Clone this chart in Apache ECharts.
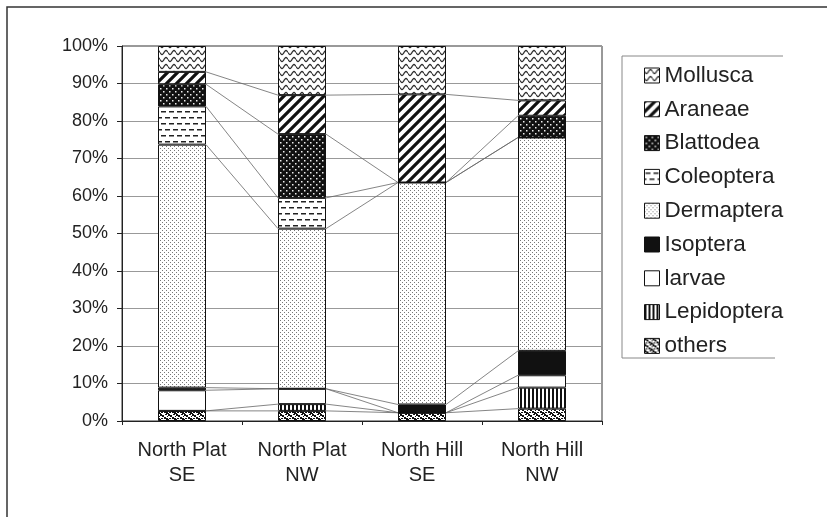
<!DOCTYPE html>
<html>
<head>
<meta charset="utf-8">
<script src="https://cdn.jsdelivr.net/npm/echarts@6/dist/echarts.min.js"></script>
<style>
html,body{margin:0;padding:0;background:#fff;}
#chart{width:827px;height:517px;}
</style>
</head>
<body>
<div id="chart"></div>
<script>
// ---- data (percent of each site) ----
const categories = ['North Plat\nSE', 'North Plat\nNW', 'North Hill\nSE', 'North Hill\nNW'];
const others      = [2.7, 2.7, 2.2, 3.3];
const lepidoptera = [0.0, 1.8, 0.0, 5.6];
const larvae      = [5.5, 4.1, 0.0, 3.3];
const isoptera    = [0.7, 0.0, 2.2, 6.5];
const dermaptera  = [64.8, 42.7, 59.2, 56.9];
const coleoptera  = [10.2, 8.2, 0.0, 0.0];
const blattodea   = [5.9, 17.0, 0.0, 5.8];
const araneae     = [3.3, 10.4, 23.5, 4.1];
const mollusca    = [6.9, 13.1, 12.9, 14.5];
const yTicks = [0, 10, 20, 30, 40, 50, 60, 70, 80, 90, 100];

// ---- patterns ----
function mk(w, h, draw, bg) {
  const c = document.createElement('canvas');
  c.width = w; c.height = h;
  const g = c.getContext('2d');
  g.fillStyle = bg || '#fff';
  g.fillRect(0, 0, w, h);
  draw(g, w, h);
  return { image: c, repeat: 'repeat' };
}
const pMollusca = mk(8, 7, (g, w, h) => {
  g.strokeStyle = '#333'; g.lineWidth = 1.3; g.beginPath();
  for (let x = 0; x <= w; x += 0.5) {
    const y = 3.5 + 2 * Math.sin(2 * Math.PI * x / w);
    if (x === 0) g.moveTo(x, y); else g.lineTo(x, y);
  }
  g.stroke();
});
const pAraneae = mk(10, 10, (g) => {
  g.strokeStyle = '#111'; g.lineWidth = 3.2; g.beginPath();
  g.moveTo(-2, 12); g.lineTo(12, -2);
  g.moveTo(-7, 7); g.lineTo(7, -7);
  g.moveTo(3, 17); g.lineTo(17, 3);
  g.stroke();
});
const pBlattodea = mk(6, 6, (g) => {
  g.fillStyle = '#eee';
  g.fillRect(1, 1, 1.5, 1.5); g.fillRect(4, 4, 1.5, 1.5);
}, '#111');
const pColeoptera = mk(16, 12, (g) => {
  g.fillStyle = '#222';
  g.fillRect(1, 3, 5, 1.5); g.fillRect(9, 3, 5, 1.5);
  g.fillRect(5, 9, 5, 1.5); g.fillRect(13, 9, 3, 1.5); g.fillRect(0, 9, 2, 1.5);
});
const pDermaptera = mk(4, 4, (g) => {
  g.fillStyle = '#777';
  g.fillRect(0, 0, 1, 1); g.fillRect(2, 2, 1, 1);
});
const pLepidoptera = mk(4, 4, (g) => {
  g.fillStyle = '#111';
  g.fillRect(0, 0, 2, 4);
});
const pOthers = mk(8, 6, (g) => {
  g.fillStyle = '#111';
  g.fillRect(0, 0, 2, 2); g.fillRect(2, 1, 2, 2); g.fillRect(5, 0, 2, 1);
  g.fillRect(4, 3, 2, 2); g.fillRect(6, 4, 2, 2); g.fillRect(1, 4, 2, 1);
  g.fillRect(7, 2, 1, 1); g.fillRect(0, 5, 1, 1);
});

const seriesDefs = [
  ['others', others, pOthers],
  ['Lepidoptera', lepidoptera, pLepidoptera],
  ['larvae', larvae, '#ffffff'],
  ['Isoptera', isoptera, '#111111'],
  ['Dermaptera', dermaptera, pDermaptera],
  ['Coleoptera', coleoptera, pColeoptera],
  ['Blattodea', blattodea, pBlattodea],
  ['Araneae', araneae, pAraneae],
  ['Mollusca', mollusca, pMollusca]
];

// cumulative tops for series lines
const cum = [];
let run = categories.map(() => 0);
seriesDefs.forEach(d => {
  run = run.map((v, i) => v + d[1][i]);
  cum.push(run.slice());
});

const series = seriesDefs.map(d => ({
  name: d[0],
  type: 'bar',
  stack: 'all',
  barWidth: '40%',
  data: d[1],
  itemStyle: { color: d[2], borderColor: '#111', borderWidth: 1 },
  emphasis: { disabled: true },
  z: 3
}));

series.push({
  type: 'custom',
  name: 'serieslines',
  silent: true,
  z: 2,
  data: [[0, 0], [1, 0], [2, 0]],
  renderItem: function (params, api) {
    const i = params.dataIndex;
    const hw = api.size([1, 0])[0] * 0.4 / 2;
    const children = [];
    for (let k = 0; k < cum.length - 1; k++) {
      const p1 = api.coord([i, cum[k][i]]);
      const p2 = api.coord([i + 1, cum[k][i + 1]]);
      children.push({
        type: 'line',
        shape: { x1: p1[0] + hw, y1: p1[1], x2: p2[0] - hw, y2: p2[1] },
        style: { stroke: '#666', lineWidth: 0.8 }
      });
    }
    return { type: 'group', children: children };
  }
});

const chart = echarts.init(document.getElementById('chart'), null, { renderer: 'canvas' });
chart.setOption({
  animation: false,
  backgroundColor: '#fff',
  textStyle: { fontFamily: 'Liberation Sans, Arial, sans-serif' },
  grid: { left: 122, right: 225, top: 46, bottom: 96, show: true, borderColor: '#333', borderWidth: 1 },
  xAxis: {
    type: 'category',
    data: categories,
    axisLine: { lineStyle: { color: '#222', width: 1 } },
    axisTick: { show: true, length: 4, lineStyle: { color: '#222' } },
    axisLabel: { fontSize: 20, color: '#222', lineHeight: 25, margin: 17, fontFamily: 'Liberation Sans, Arial, sans-serif' }
  },
  yAxis: {
    type: 'value',
    min: yTicks[0],
    max: yTicks[yTicks.length - 1],
    interval: 10,
    axisLine: { show: true, lineStyle: { color: '#222', width: 1 } },
    axisTick: { show: true, length: 5, lineStyle: { color: '#222' } },
    axisLabel: { fontSize: 18, color: '#222', margin: 14, formatter: '{value}%', fontFamily: 'Liberation Sans, Arial, sans-serif' },
    splitLine: { show: true, lineStyle: { color: '#999', width: 1 } }
  },
  legend: {
    orient: 'vertical',
    left: 639,
    top: 59,
    icon: 'rect',
    itemWidth: 15,
    itemHeight: 15,
    itemGap: 10.8,
    itemTextGap: 5,
    itemStyle: { borderColor: '#111', borderWidth: 1 },
    textStyle: { fontSize: 22.5, color: '#222', lineHeight: 22, fontFamily: 'Liberation Sans, Arial, sans-serif' },
    data: ['Mollusca', 'Araneae', 'Blattodea', 'Coleoptera', 'Dermaptera', 'Isoptera', 'larvae', 'Lepidoptera', 'others'],
    selectedMode: false
  },
  graphic: [
    { type: 'polyline', shape: { points: [[7, 517], [7, 7], [827, 7]] }, style: { stroke: '#333', lineWidth: 1.5, fill: null }, silent: true },
    { type: 'polyline', shape: { points: [[783, 56], [622, 56], [622, 358], [775, 358]] }, style: { stroke: '#888', lineWidth: 1, fill: null }, silent: true }
  ],
  series: series
});
</script>
</body>
</html>
